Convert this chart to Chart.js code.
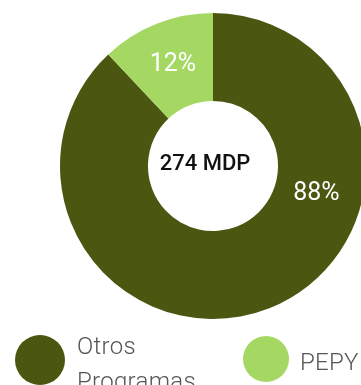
<!DOCTYPE html>
<html>
<head>
<meta charset="utf-8">
<script src="https://cdn.jsdelivr.net/npm/chart.js@4/dist/chart.umd.min.js"></script>
<style>
  html, body { margin: 0; padding: 0; background: #fff; }
  body { width: 361px; height: 385px; overflow: hidden; position: relative; font-family: Roboto, sans-serif; }
  #wrap { position: absolute; left: 0; top: 0; width: 426px; height: 332px; }
  .item { position: absolute; display: flex; align-items: flex-start; }
  .dot { border-radius: 50%; flex: none; }
  .txt { color: #555; font-weight: 300; font-size: 24px; line-height: 35px; letter-spacing: 0.3px; }
</style>
</head>
<body>
<div id="wrap"><canvas id="presupuestoChart"></canvas></div>
<div id="leyenda"></div>
<script>
// Reparto del presupuesto
const categorias = ['Otros Programas', 'PEPY'];
const porcentajes = [88, 12];
const etiquetas = ['88%', '12%'];
const total = '274 MDP';
const colores = ['#4b5610', '#a5d862'];

// Texto central y etiquetas de porcentaje
const textosPlugin = {
  id: 'textos',
  afterDraw(chart) {
    const ctx = chart.ctx;
    const arcs = chart.getDatasetMeta(0).data;
    const cx = arcs[0].x, cy = arcs[0].y;
    ctx.save();
    ctx.textAlign = 'center';
    ctx.textBaseline = 'middle';
    ctx.fillStyle = '#111';
    ctx.font = '500 22px Roboto';
    ctx.fillText(total, cx - 8, cy - 2);

    ctx.fillStyle = '#fff';
    ctx.font = '400 25px Roboto';
    arcs.forEach((arc, i) => {
      let p;
      if (i === 0) {
        // el segmento grande lleva la etiqueta a la derecha
        const r = (arc.innerRadius + arc.outerRadius) / 2 - 2;
        const a = -Math.PI / 2 + 105 * Math.PI / 180;
        p = { x: cx + r * Math.cos(a), y: cy + r * Math.sin(a) };
      } else {
        p = arc.getCenterPoint();
      }
      ctx.fillText(etiquetas[i], p.x, p.y);
    });
    ctx.restore();
  }
};

new Chart(document.getElementById('presupuestoChart'), {
  type: 'doughnut',
  data: {
    labels: categorias,
    datasets: [{
      data: porcentajes,
      backgroundColor: colores,
      borderWidth: 0
    }]
  },
  options: {
    responsive: true,
    maintainAspectRatio: false,
    animation: false,
    cutout: '42.5%',
    layout: { padding: { top: 13, bottom: 13 } },
    plugins: {
      legend: { display: false },
      tooltip: { enabled: false }
    }
  },
  plugins: [textosPlugin]
});

// Leyenda en HTML
const posLeyenda = [
  { left: 15, top: 335, size: 50, txtTop: -6, nombre: 'Otros<br>Programas' },
  { left: 243, top: 336, size: 46, txtTop: 9, nombre: 'PEPY' }
];
const leyenda = document.getElementById('leyenda');
categorias.forEach((c, i) => {
  const p = posLeyenda[i];
  const el = document.createElement('div');
  el.className = 'item';
  el.style.left = p.left + 'px';
  el.style.top = p.top + 'px';
  el.innerHTML = '<div class="dot" style="width:' + p.size + 'px;height:' + p.size + 'px;background:' + colores[i] + '"></div>' +
    '<div class="txt" style="margin-left:' + (i === 0 ? 12 : 11) + 'px;margin-top:' + p.txtTop + 'px">' + p.nombre + '</div>';
  leyenda.appendChild(el);
});
</script>
</body>
</html>
